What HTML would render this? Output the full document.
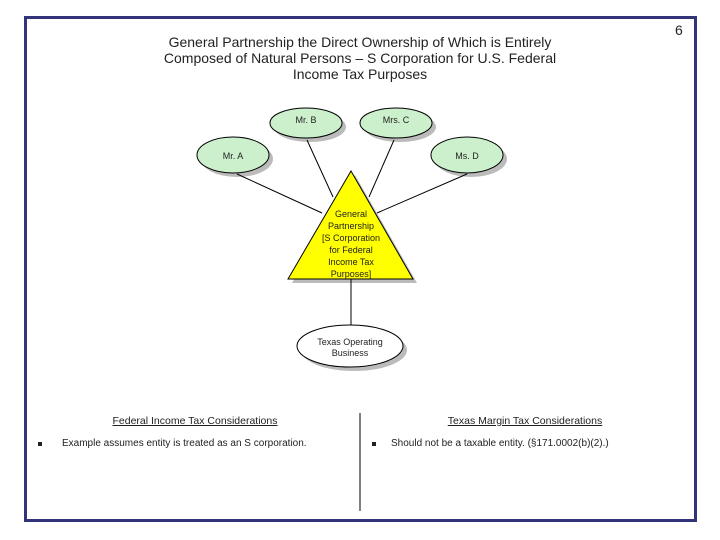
<!DOCTYPE html>
<html><head><style>
body{margin:0;width:720px;height:540px;background:#fff;position:relative;font-family:"Liberation Sans",sans-serif;overflow:hidden}
.t{position:absolute;color:#222}
.b{position:absolute;width:4px;height:4px;background:#222}
</style></head><body>
<div style="position:absolute;left:24px;top:16px;width:667px;height:500px;border:3px solid #33337a"></div>
<div class="t" style="left:675px;top:22px;font-size:14px">6</div>
<div class="t" style="left:120px;top:34px;width:480px;text-align:center;font-size:14px;line-height:16px">General Partnership the Direct Ownership of Which is Entirely<br>Composed of Natural Persons – S Corporation for U.S. Federal<br>Income Tax Purposes</div>
<svg width="720" height="540" style="position:absolute;left:0;top:0" font-family="Liberation Sans, sans-serif" font-size="9" fill="#222">
<g fill="#bbb">
<ellipse cx="310" cy="127" rx="36" ry="15"/>
<ellipse cx="400" cy="127" rx="36" ry="15"/>
<ellipse cx="237" cy="159" rx="36" ry="18"/>
<ellipse cx="471" cy="159" rx="36" ry="18"/>
<polygon points="355,175 417,283 292,283"/>
<ellipse cx="354" cy="350" rx="53" ry="21"/>
</g>
<g stroke="#000" stroke-width="1">
<line x1="237" y1="174" x2="322" y2="213"/>
<line x1="307" y1="140" x2="333" y2="197"/>
<line x1="394" y1="140" x2="369" y2="197"/>
<line x1="467" y1="174" x2="377" y2="213"/>
<line x1="351" y1="279" x2="351" y2="325"/>
<g fill="#ccf0cc">
<ellipse cx="306" cy="123" rx="36" ry="15"/>
<ellipse cx="396" cy="123" rx="36" ry="15"/>
<ellipse cx="233" cy="155" rx="36" ry="18"/>
<ellipse cx="467" cy="155" rx="36" ry="18"/>
</g>
<polygon points="351,171 413,279 288,279" fill="#ffff00"/>
<ellipse cx="350" cy="346" rx="53" ry="21" fill="#fff"/>
</g>
<g text-anchor="middle">
<text x="306" y="123">Mr. B</text>
<text x="396" y="123">Mrs. C</text>
<text x="233" y="159">Mr. A</text>
<text x="467" y="159">Ms. D</text>
<text x="351" y="217">General</text>
<text x="351" y="229">Partnership</text>
<text x="351" y="241">[S Corporation</text>
<text x="351" y="253">for Federal</text>
<text x="351" y="265">Income Tax</text>
<text x="351" y="277">Purposes]</text>
<text x="350" y="345">Texas Operating</text>
<text x="350" y="356">Business</text>
</g>
<line x1="360" y1="413" x2="360" y2="511" stroke="#000"/>
</svg>
<div class="t" style="left:85px;top:415px;width:220px;text-align:center;font-size:10.5px;text-decoration:underline">Federal Income Tax Considerations</div>
<div class="t" style="left:415px;top:415px;width:220px;text-align:center;font-size:10.5px;text-decoration:underline">Texas Margin Tax Considerations</div>
<div class="b" style="left:38px;top:442px"></div>
<div class="t" style="left:62px;top:438px;font-size:10px">Example assumes entity is treated as an S corporation.</div>
<div class="b" style="left:372px;top:442px"></div>
<div class="t" style="left:391px;top:438px;font-size:10px">Should not be a taxable entity. (§171.0002(b)(2).)</div>
</body></html>
